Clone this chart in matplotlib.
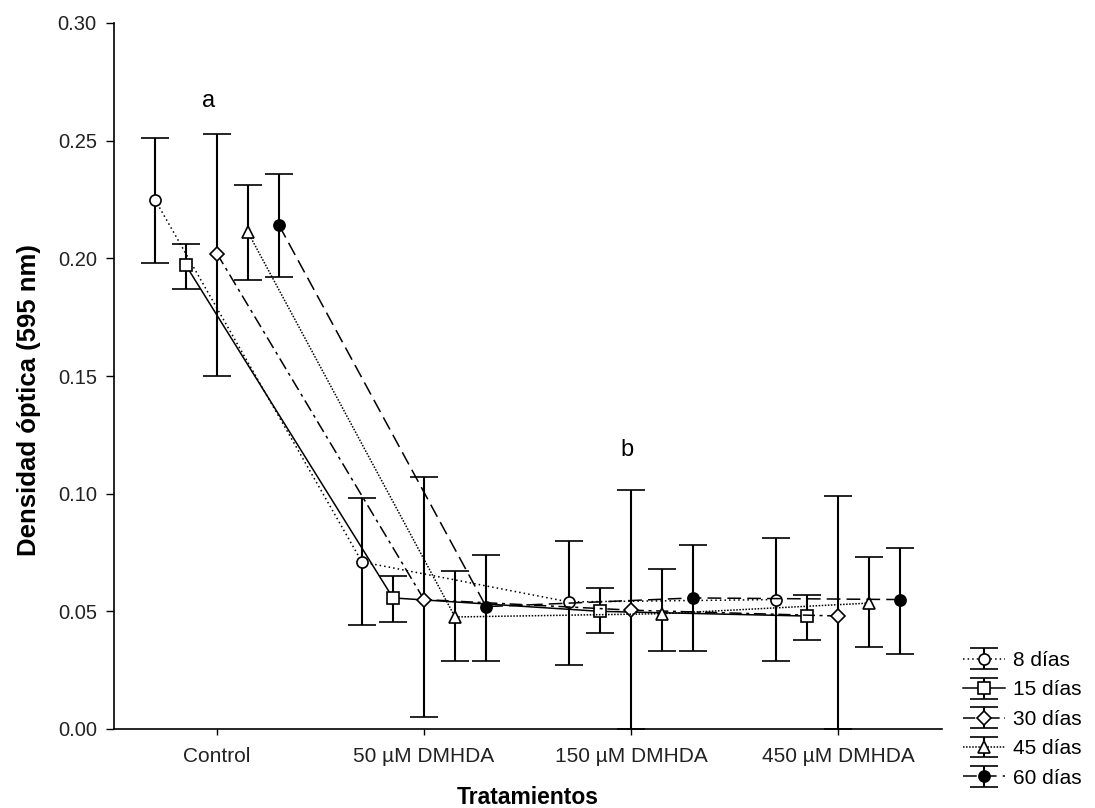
import matplotlib
matplotlib.use("Agg")
import matplotlib.pyplot as plt
import numpy as np

plt.rcParams['font.family'] = ['Liberation Sans', 'DejaVu Sans']

categories = ["Control", "50 µM DMHDA", "150 µM DMHDA", "450 µM DMHDA"]
series_names = ["8 días", "15 días", "30 días", "45 días", "60 días"]

mean_8 = [0.225, 0.071, 0.054, 0.055]
low_8 = [0.198, 0.044, 0.027, 0.029]
high_8 = [0.251, 0.098, 0.080, 0.081]

mean_15 = [0.197, 0.0557, 0.050, 0.048]
low_15 = [0.187, 0.0455, 0.041, 0.038]
high_15 = [0.206, 0.065, 0.060, 0.057]

mean_30 = [0.202, 0.055, 0.0505, 0.048]
low_30 = [0.150, 0.005, 0.0, 0.0]
high_30 = [0.253, 0.107, 0.1016, 0.099]

mean_45 = [0.211, 0.0476, 0.049, 0.0535]
low_45 = [0.191, 0.029, 0.033, 0.035]
high_45 = [0.231, 0.067, 0.068, 0.073]

mean_60 = [0.214, 0.052, 0.0557, 0.055]
low_60 = [0.192, 0.029, 0.033, 0.032]
high_60 = [0.236, 0.074, 0.078, 0.077]

means = [mean_8, mean_15, mean_30, mean_45, mean_60]
lows = [low_8, low_15, low_30, low_45, low_60]
highs = [high_8, high_15, high_30, high_45, high_60]

offsets = [-0.3, -0.15, 0.0, 0.15, 0.3]
markers = ['o', 's', 'D', '^', 'o']
mfcs = ['white', 'white', 'white', 'white', 'black']
msizes = [8, 8, 7, 8.5, 8]
linestyles = [(0, (1, 2)), '-', (0, (8, 3, 2, 3)), (0, (1, 1)), (0, (9, 4))]

fig = plt.figure(figsize=(10.95, 8.08), dpi=100)
ax = fig.add_axes([113.5 / 1095, 79 / 808, 828 / 1095, 706 / 808])

x = np.arange(len(categories))
handles = []
for i in range(5):
    m = np.array(means[i])
    lo = m - np.array(lows[i])
    hi = np.array(highs[i]) - m
    h = ax.errorbar(x + offsets[i], m, yerr=[lo, hi], fmt=markers[i], color='black',
                    mfc=mfcs[i], mec='black', ms=msizes[i], mew=1.2,
                    ecolor='black', elinewidth=1.5, capsize=10, capthick=1.5,
                    ls=linestyles[i], lw=1.1, zorder=3)
    handles.append(h)

ax.set_xlim(-0.5, 3.5)
ax.set_ylim(0, 0.30)
ax.set_yticks(np.arange(0, 0.301, 0.05))
ax.set_yticklabels([f"{v:.2f}" for v in np.arange(0, 0.301, 0.05)])
ax.set_xticks(x)
ax.set_xticklabels(categories, fontsize=15)
ax.tick_params(axis='y', labelsize=14.5, length=6, width=1, direction='out',
               labelcolor='#222222', pad=6)
ax.tick_params(axis='x', length=4, width=1, direction='out', pad=9,
               labelcolor='#222222')
for s in ['top', 'right']:
    ax.spines[s].set_visible(False)
for s in ['left', 'bottom']:
    ax.spines[s].set_linewidth(1.2)

ax.set_ylabel("Densidad óptica (595 nm)", fontsize=18.5, fontweight='bold')
ax.yaxis.set_label_coords(-0.087, 0.466)
ax.set_xlabel("Tratamientos", fontsize=16.5, fontweight='bold', labelpad=14)

ax.text(-0.04, 0.267, "a", fontsize=17, ha='center', va='center')
ax.text(1.98, 0.1186, "b", fontsize=17, ha='center', va='center')

fig.legend(handles, series_names, loc='lower left', bbox_to_anchor=(955 / 1095, 12 / 808),
           frameon=False, fontsize=15, handlelength=2.0, labelspacing=0.5,
           handletextpad=0.4, borderaxespad=0)

fig.savefig("out.png", dpi=100)
